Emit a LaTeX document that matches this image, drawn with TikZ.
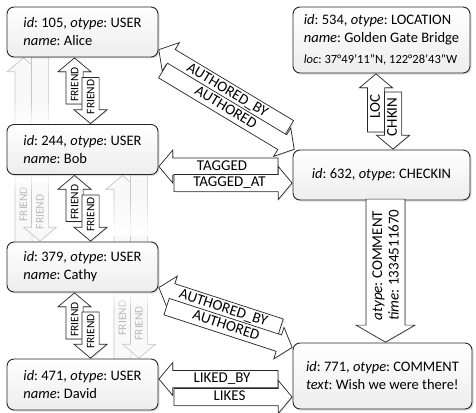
\documentclass[tikz,border=0pt]{standalone}
\usepackage{fontspec}
\setmainfont{Carlito}
\usetikzlibrary{positioning, shapes.arrows, shadows, fadings, calc}
\pgfdeclarelayer{background}
\pgfsetlayers{background,main}
\tikzfading[name=fadein, top color=transparent!100, bottom color=transparent!0]
\tikzfading[name=fadeout, top color=transparent!0, bottom color=transparent!100]
\frenchspacing

\begin{document}
\begin{tikzpicture}[
  x=1pt, y=-1pt,
  every node/.style={font=\fontsize{15}{17}\selectfont},
  objbox/.style={draw=black!85, line width=0.9pt, rounded corners=7pt,
               top color=white, bottom color=gray!14, align=left,
               font=\fontsize{14.5}{18}\selectfont,
               inner sep=0pt, minimum width=151pt, minimum height=50pt,
               drop shadow={shadow xshift=1.5pt, shadow yshift=-1.5pt, opacity=0.25}},
  fatarrow/.style={single arrow, draw=black!85, line width=0.7pt, fill=white,
               single arrow head extend=8pt, single arrow tip angle=100,
               text height=10pt, text depth=2.5pt, inner ysep=2pt, inner xsep=1pt,
               anchor=tip,
               drop shadow={shadow xshift=1pt, shadow yshift=-1pt, opacity=0.2}},
  friendarrow/.style={fatarrow, font=\fontsize{11.5}{13}\selectfont,
               text height=8pt, text depth=0.5pt, inner ysep=4pt},
  cmtarrow/.style={single arrow, draw=black!85, line width=0.7pt, fill=white,
               single arrow head extend=10pt, single arrow tip angle=120,
               font=\fontsize{15}{16.5}\selectfont,
               inner ysep=6pt, align=left, anchor=tip,
               drop shadow={shadow xshift=1pt, shadow yshift=-1pt, opacity=0.2}},
  ghostarrow/.style={single arrow, draw=gray!45, line width=0.7pt, fill=gray!5,
               single arrow head extend=8pt, single arrow tip angle=100,
               text height=8pt, text depth=0.5pt, inner ysep=4pt, anchor=tip},
  ghostlabel/.style={font=\fontsize{11.5}{13}\selectfont, text=gray!55, rotate=90}
]
\useasboundingbox (0, 0) rectangle (476, 412);

% ---- Users ----
\node[objbox] (alice) at (82.5, 32)
  {\textit{id}: 105, \textit{otype}: USER\\\textit{name}: Alice};
\node[objbox] (bob) at (82.5, 149.5)
  {\textit{id}: 244, \textit{otype}: USER\\\textit{name}: Bob};
\node[objbox] (cathy) at (82.5, 267)
  {\textit{id}: 379, \textit{otype}: USER\\\textit{name}: Cathy};
\node[objbox, minimum height=51pt] (david) at (82.5, 384.5)
  {\textit{id}: 471, \textit{otype}: USER\\\textit{name}: David};

% ---- Location, checkin, comment ----
\node[objbox, minimum width=177pt, minimum height=66pt] (location) at (381.5, 40)
  {\textit{id}: 534, \textit{otype}: LOCATION\\\textit{name}: Golden Gate Bridge\\[3pt]
   {\fontsize{12.5}{13}\selectfont\textit{loc}: 37°49'11"N, 122°28'43"W}};
\node[objbox, minimum width=177pt] (checkin) at (381.5, 175)
  {\textit{id}: 632, \textit{otype}: CHECKIN};
\node[objbox, minimum width=179pt, minimum height=66pt] (comment) at (382.5, 376)
  {\textit{id}: 771, \textit{otype}: COMMENT\\\textit{text}: Wish we were there!};

% ---- Faded friend edges behind Bob and Cathy ----
\begin{pgfonlayer}{background}
\node[ghostarrow, rotate=90, minimum height=185pt] (gca) at ([xshift=-59pt]alice.south) {};
\node[ghostarrow, rotate=90, shape border rotate=180, minimum height=185pt] (gac)
  at ([xshift=-42.5pt]cathy.north) {};
\node[ghostlabel] (lca) at ($(gca.tail)!0.21!(gca.tip)$) {FRIEND};
\node[ghostlabel] (lac) at ($(gac.tail)!0.84!(gac.tip)$) {FRIEND};

\node[ghostarrow, rotate=90, minimum height=185pt] (gdb) at ([xshift=40pt]bob.south) {};
\node[ghostarrow, rotate=90, shape border rotate=180, minimum height=185pt] (gbd)
  at ([xshift=56.5pt]david.north) {};
\node[ghostlabel] (ldb) at ($(gdb.tail)!0.23!(gdb.tip)$) {FRIEND};
\node[ghostlabel] (lbd) at ($(gbd.tail)!0.81!(gbd.tip)$) {FRIEND};

\fill[white, path fading=fadein] (4, 100) rectangle (54, 126);
\fill[white, path fading=fadeout] (4, 173) rectangle (54, 194);
\fill[white, path fading=fadein] (104, 198) rectangle (161, 236);
\fill[white, path fading=fadeout] (104, 291) rectangle (161, 310);
\end{pgfonlayer}

% ---- Friend edges ----
\node[friendarrow, rotate=90, minimum height=46pt] (fba) at ([xshift=-8pt]alice.south) {FRIEND};
\node[friendarrow, rotate=90, shape border rotate=180, minimum height=46pt] (fab)
  at ([xshift=8pt]bob.north) {FRIEND};
\node[friendarrow, rotate=90, minimum height=46pt] (fcb) at ([xshift=-8pt]bob.south) {FRIEND};
\node[friendarrow, rotate=90, shape border rotate=180, minimum height=46pt] (fbc)
  at ([xshift=8pt]cathy.north) {FRIEND};
\node[friendarrow, rotate=90, minimum height=46pt] (fdc) at ([xshift=-8pt]cathy.south) {FRIEND};
\node[friendarrow, rotate=90, shape border rotate=180, minimum height=46pt] (fcd)
  at ([xshift=8pt]david.north) {FRIEND};

% ---- Authored / tagged / liked ----
\node[fatarrow, rotate=-31, shape border rotate=180, minimum height=152pt] (authby1)
  at ([yshift=8pt]alice.south east) {AUTHORED\_BY};
\node[fatarrow, rotate=-31, minimum height=153pt] (auth1)
  at ([xshift=2pt]checkin.north west) {AUTHORED};
\node[fatarrow, shape border rotate=180, minimum height=119pt] (tagged)
  at ([yshift=-17pt]bob.east) {TAGGED};
\node[fatarrow, minimum height=118pt] (taggedat)
  at ([yshift=-8pt]checkin.west) {TAGGED\_AT};
\node[fatarrow, rotate=-18, shape border rotate=180, minimum height=128pt] (authby2)
  at ([yshift=5pt]cathy.south east) {AUTHORED\_BY};
\node[fatarrow, rotate=-18, minimum height=132pt] (auth2)
  at ([yshift=-5pt]comment.north west) {AUTHORED};
\node[fatarrow, shape border rotate=180, minimum height=119pt] (likedby)
  at ([yshift=5.5pt]david.east) {LIKED\_BY};
\node[fatarrow, minimum height=118pt] (likes)
  at ([yshift=-21pt]comment.west) {LIKES};

% ---- Location / checkin / comment ----
\node[fatarrow, rotate=90, minimum height=58pt] (loc)
  at ([xshift=-5.5pt]location.south) {LOC};
\node[fatarrow, rotate=90, shape border rotate=180, minimum height=57pt] (chkin)
  at ([xshift=11.5pt]checkin.north) {CHKIN};
\node[cmtarrow, rotate=90, shape border rotate=180, minimum height=143pt] (hascomment)
  at ([xshift=3pt]comment.north) {\textit{atype}: COMMENT\\\textit{time}: 1334511670};

\end{tikzpicture}
\end{document}
